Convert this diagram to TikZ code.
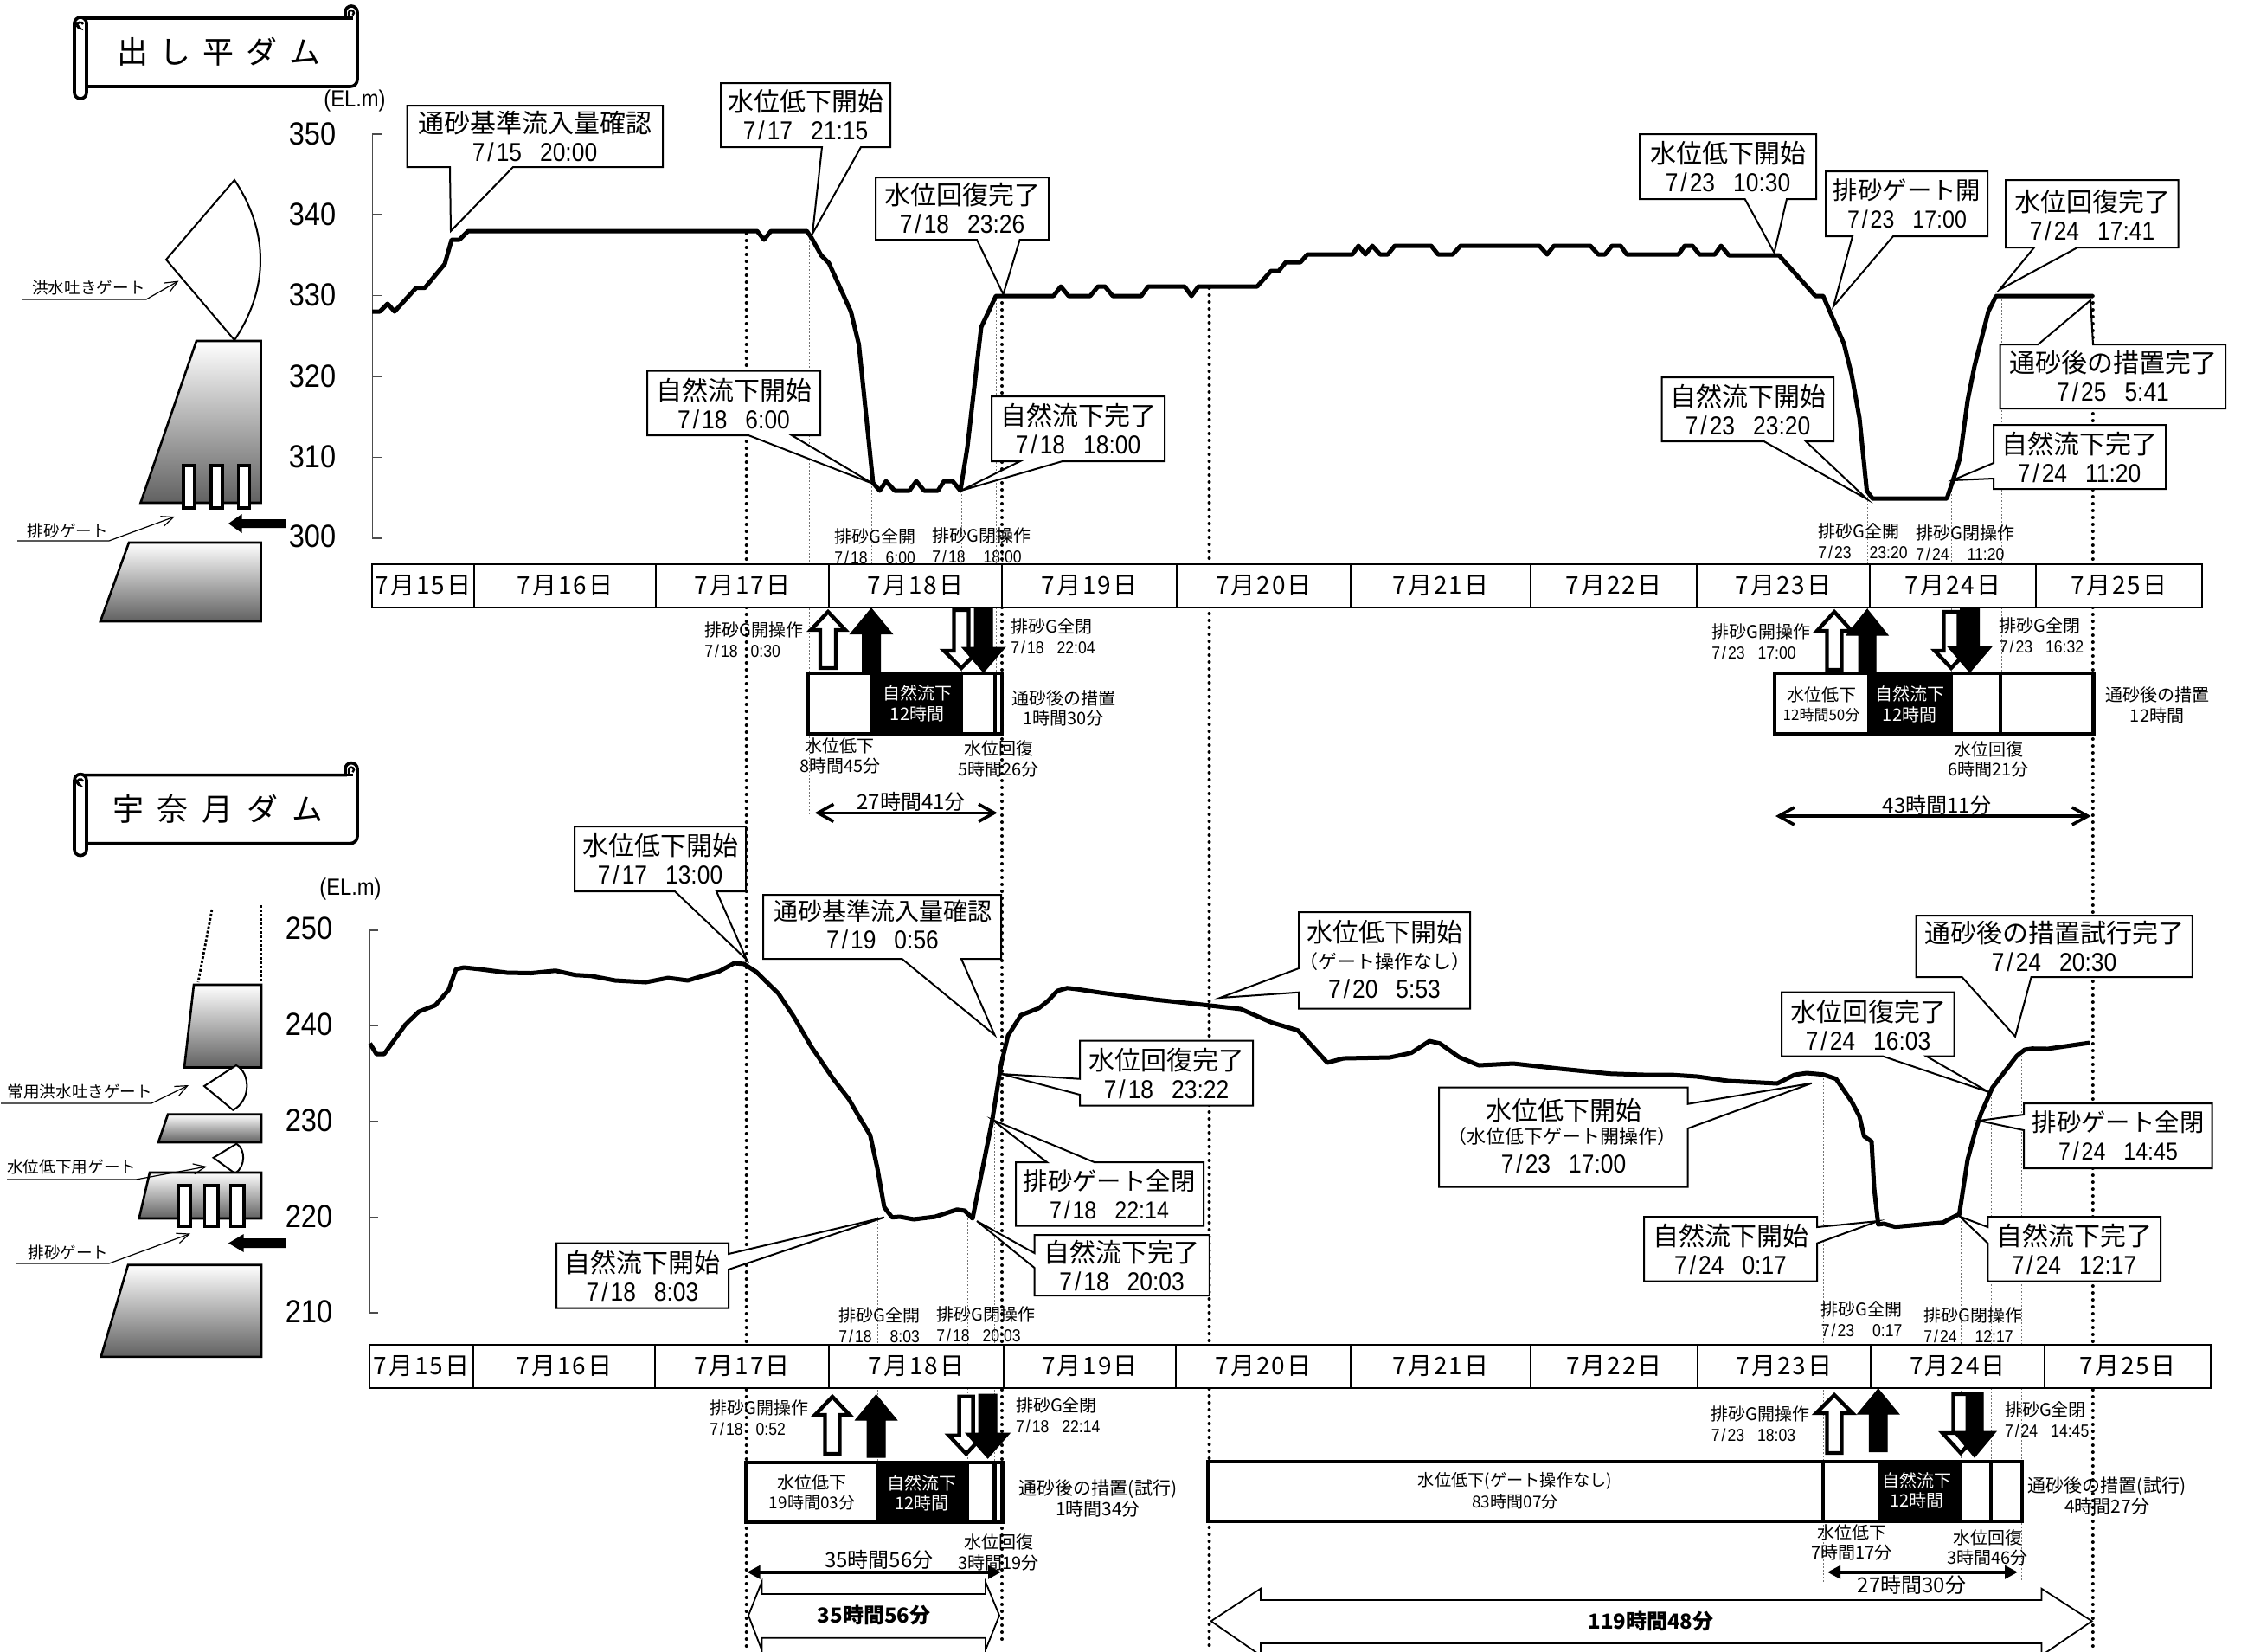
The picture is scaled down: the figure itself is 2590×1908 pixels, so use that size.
\documentclass[tikz,border=0pt]{standalone}
\usepackage{fontspec}
\setmainfont{Noto Sans CJK JP}
\newfontfamily\jp{Noto Sans CJK JP}
\newfontfamily\jpsp[LetterSpace=7]{Noto Sans CJK JP}
\newfontfamily\nm[FakeStretch=0.88]{Liberation Sans}
\usetikzlibrary{arrows.meta}
\newcommand\sls{\kern.1em/\kern.1em}
\newcommand\gpA{\hspace{10.5pt}}
\newcommand\gpB{\hspace{7.5pt}}
\tikzset{
  pic/.style={x=0.5pt,y=-0.5pt},
  thindot/.style={draw=black!55,line width=0.5pt,dash pattern=on 1pt off 1pt},
  thickdot/.style={draw=black,line width=2pt,line cap=round,dash pattern=on 0pt off 4pt},
  curve/.style={draw=black,line width=2.5pt,line join=round},
  callbox/.style={draw=black,fill=white,line width=1pt},
  cl/.style={inner sep=0,align=center,font=\jp\fontsize{15}{16.5}\selectfont},
  clsm/.style={inner sep=0,align=center,font=\jp\fontsize{14.2}{16.5}\selectfont},
  cellb/.style={draw=black,fill=white,line width=1pt,inner sep=0,outer sep=0,minimum height=25pt,font=\jpsp\fontsize{14}{16}\selectfont},
  sml/.style={inner sep=0,align=left,anchor=west,font=\jp\fontsize{10}{12}\selectfont},
  smc/.style={inner sep=0,align=center,font=\jp\fontsize{10}{11.7}\selectfont},
  smw/.style={smc,text=white},
  big/.style={inner sep=0,font=\jp\fontsize{12}{14}\selectfont},
  bigb/.style={inner sep=0,font=\jp\bfseries\fontsize{12}{14}\selectfont},
  axn/.style={inner sep=0,font=\nm\fontsize{18.5}{20}\selectfont},
  elm/.style={inner sep=0,font=\nm\fontsize{13.5}{15}\selectfont},
  axisl/.style={draw=black!70,line width=0.8pt},
  dam/.style={draw=black,line width=1.3pt,top color=white,bottom color=black!62},
  slot/.style={draw=black,fill=white,line width=1.8pt},
  gate/.style={draw=black,fill=white,line width=1pt},
  leader/.style={draw=black,line width=0.6pt,-{Straight Barb[length=7pt,width=6pt]}},
  dlab/.style={inner sep=0,anchor=west,font=\jp\fontsize{9.3}{11}\selectfont},
  tbox/.style={draw=black,fill=white,line width=2.2pt},
  tblk/.style={draw=black,fill=black,line width=1pt},
  tdiv/.style={draw=black,line width=2.2pt},
  awhite/.style={draw=black,fill=white,line width=2.2pt,miter limit=10},
  ablack/.style={draw=black,fill=black,line width=0.5pt},
  dblopen/.style={draw=black,line width=1.8pt,{Straight Barb[length=9pt,width=10pt,line width=1.8pt]}-{Straight Barb[length=9pt,width=10pt,line width=1.8pt]}},
  dblsolid/.style={draw=black,line width=1.8pt,{Triangle[length=7.5pt,width=7.5pt]}-{Triangle[length=7.5pt,width=7.5pt]}},
  hollow/.style={draw=black,fill=white,line width=0.9pt},
  scrollline/.style={draw=black,line width=1.8pt,fill=white},
  title/.style={inner sep=0,font=\jp\fontsize{18}{20}\selectfont}
}
% vertical block arrow: style, centre x, tip y, half head, head base y, half shaft, tail y
\newcommand\varr[7]{\draw[#1] (#2,#3) -- ({#2+#4},#5) -- ({#2+#6},#5) -- ({#2+#6},#7) -- ({#2-#6},#7) -- ({#2-#6},#5) -- ({#2-#4},#5) -- cycle;}
% date cell
\newcommand\dcell[5]{\node[cellb,minimum width={(#3-#2)*0.5pt}] (#1) at ({(#2+#3)/2},#4) {#5};}
% scroll banner
\newcommand\scrollshape{%
  \draw[scrollline] (93,21) -- (399,21) -- (399,14) arc[start angle=180,end angle=360,radius=7] -- (413,92) arc[start angle=0,end angle=90,radius=8] -- (95,100) -- cycle;
  \draw[scrollline,fill=none] (399,21) -- (408,21);
  \draw[scrollline] (86,27) arc[start angle=180,end angle=360,radius=7] -- (100,107) arc[start angle=0,end angle=180,radius=7] -- cycle;
  \draw[draw=black,line width=1.2pt] (96,28) arc[start angle=340,end angle=90,radius=3.5] -- (86,25);
  \draw[draw=black,line width=1.2pt] (403,20) -- (403,15) arc[start angle=180,end angle=420,radius=3];
}
\begin{document}
\begin{tikzpicture}[pic]
\useasboundingbox (0,0) rectangle (2590,1908);
\clip (0,0) rectangle (2590,1908);
\fill[white] (0,0) rectangle (2590,1908);

% ---- guide lines
\foreach \x/\a/\b in {935/267/942,1007.3/558/780,1111/567/780,1151/342/780,2051/295/942,2158/570/780,2255/555/780,2313/342/780,
 1014/1406/1692,1118/1408/1692,1149.6/1270/1692,2107/1242/1828,2170.5/1415/1692,2266/1403/1692,2301/1256/1692,2336/1220/1828}
  \draw[thindot] (\x,\a) -- (\x,\b);
\coordinate (d1a) at (862.7,270); \coordinate (d1b) at (862.7,1908);
\coordinate (d2a) at (1158,342); \coordinate (d2b) at (1158,1897);
\coordinate (d3a) at (1397.5,333); \coordinate (d3b) at (1397.5,1908);
\coordinate (d4a) at (2418.8,342); \coordinate (d4b) at (2418.8,1908);
\draw[thickdot] (d1a) -- (d1b);
\draw[thickdot] (d2a) -- (d2b);
\draw[thickdot] (d3a) -- (d3b);
\draw[thickdot] (d4a) -- (d4b);

% ---- axes
\draw[axisl] (441,155) -- (430.5,155) -- (430.5,622) -- (441,622);
\foreach \y in {248,341.5,435,528.6} \draw[axisl] (430.5,\y) -- (441,\y);
\draw[axisl] (437,1075) -- (427,1075) -- (427,1517) -- (437,1517);
\foreach \y in {1185,1296,1407} \draw[axisl] (427,\y) -- (437,\y);
\node[axn] (t350) at (361,155) {350};
\node[axn] (t340) at (361,248) {340};
\node[axn] (t330) at (361,341) {330};
\node[axn] (t320) at (361,435) {320};
\node[axn] (t310) at (361,528) {310};
\node[axn] (t300) at (361,620) {300};
\node[axn] (b250) at (357,1073) {250};
\node[axn] (b240) at (357,1184) {240};
\node[axn] (b230) at (357,1295) {230};
\node[axn] (b220) at (357,1406) {220};
\node[axn] (b210) at (357,1516) {210};
\node[elm] (el1) at (410,117) {(EL.m)};
\node[elm] (el2) at (405,1027) {(EL.m)};

% ---- scrolls
\scrollshape
\node[title] (ti1) at (253,60) {出\hspace{7pt}し\hspace{7pt}平\hspace{7pt}ダ\hspace{7pt}ム};
\begin{scope}[shift={(0,874.6)}]
\scrollshape
\end{scope}
\node[title] (ti2) at (252,935) {宇\hspace{8pt}奈\hspace{8pt}月\hspace{8pt}ダ\hspace{8pt}ム};

% ---- top dam
\draw[gate] (192,300) -- (271,208) .. controls (311,268) and (311,333) .. (271,393) -- cycle;
\draw[dam] (227,394) -- (301.5,394) -- (301.5,581) -- (162.5,581) -- cycle;
\draw[dam] (149,627) -- (301.5,627) -- (301.5,718) -- (116,718) -- cycle;
\draw[slot] (212,538) rectangle (225,587);
\draw[slot] (244,538) rectangle (257,587);
\draw[slot] (275.5,538) rectangle (288.5,587);
\fill[black] (264,605) -- (279.6,594) -- (279.6,600) -- (330,600) -- (330,610) -- (279.6,610) -- (279.6,616) -- cycle;
\node[dlab] (dl1) at (37,332.6) {洪水吐きゲート};
\coordinate (dl1a) at (26,346); \coordinate (dl1b) at (169,346); \coordinate (dl1c) at (206.6,324.5);
\draw[leader] (dl1a) -- (dl1b) -- (dl1c);
\node[dlab] (dl2) at (31.5,613) {排砂ゲート};
\coordinate (dl2a) at (20,625); \coordinate (dl2b) at (126,625); \coordinate (dl2c) at (202,597);
\draw[leader] (dl2a) -- (dl2b) -- (dl2c);

% ---- bottom dam
\draw[draw=black,line width=1.4pt,dash pattern=on 1.5pt off 1pt] (245,1051) -- (229,1135);
\draw[draw=black,line width=1.4pt,dash pattern=on 1.5pt off 1pt] (301.7,1046) -- (301.7,1135);
\draw[dam] (224,1138) -- (302,1138) -- (302,1233.5) -- (213,1233.5) -- cycle;
\draw[gate] (236,1255) -- (273,1231) .. controls (290,1240) and (290,1272) .. (269.3,1282.7) -- cycle;
\draw[dam] (194,1287.7) -- (302,1287.7) -- (302,1320) -- (183,1320) -- cycle;
\draw[gate] (246.7,1337.8) -- (273.3,1321.7) .. controls (284,1328) and (284,1348) .. (271.7,1356) -- cycle;
\draw[dam] (173,1355) -- (302,1355) -- (302,1408) -- (160.7,1408) -- cycle;
\draw[slot] (206,1370) rectangle (220.5,1417);
\draw[slot] (236.5,1370) rectangle (252,1417);
\draw[slot] (266.5,1370) rectangle (282,1417);
\fill[black] (264,1436.5) -- (281.7,1426) -- (281.7,1431) -- (330,1431) -- (330,1442) -- (281.7,1442) -- (281.7,1447) -- cycle;
\draw[dam] (148,1461.7) -- (302,1461.7) -- (302,1567.8) -- (116.7,1567.8) -- cycle;
\node[dlab] (dl3) at (8.3,1261) {常用洪水吐きゲート};
\coordinate (dl3a) at (1,1275); \coordinate (dl3b) at (175,1275); \coordinate (dl3c) at (218,1254);
\draw[leader] (dl3a) -- (dl3b) -- (dl3c);
\node[dlab] (dl4) at (8,1348) {水位低下用ゲート};
\coordinate (dl4a) at (8,1363); \coordinate (dl4b) at (157,1363); \coordinate (dl4c) at (239,1348);
\draw[leader] (dl4a) -- (dl4b) -- (dl4c);
\node[dlab] (dl5) at (32,1447) {排砂ゲート};
\coordinate (dl5a) at (19,1460); \coordinate (dl5b) at (126,1460); \coordinate (dl5c) at (220,1425.5);
\draw[leader] (dl5a) -- (dl5b) -- (dl5c);

% ---- callouts top
\draw[callbox] (470.7,122) -- (766,122) -- (766,193) -- (593,193) -- (521,267) -- (520,193) -- (470.7,193) -- cycle;
\node[cl] (c1) at (618,157) {通砂基準流入量確認\\\nm 7\sls 15\gpA 20:00};
\draw[callbox] (833,96) -- (1029,96) -- (1029,170) -- (995,170) -- (939,270) -- (950,170) -- (833,170) -- cycle;
\node[cl] (c2) at (931,133) {水位低下開始\\\nm 7\sls 17\gpA 21:15};
\draw[callbox] (1012,205) -- (1212,205) -- (1212,277) -- (1178.6,277) -- (1159.5,340) -- (1129,277) -- (1012,277) -- cycle;
\node[cl] (c3) at (1112,241) {水位回復完了\\\nm 7\sls 18\gpA 23:26};
\draw[callbox] (748,428.6) -- (948,428.6) -- (948,503) -- (915,503) -- (1009,559) -- (865,503) -- (748,503) -- cycle;
\node[cl] (c4) at (848,466) {自然流下開始\\\nm 7\sls 18\gpA 6:00};
\draw[callbox] (1146,458) -- (1346,458) -- (1346,533) -- (1228,533) -- (1110.5,567) -- (1179,533) -- (1146,533) -- cycle;
\node[cl] (c5) at (1246,495.5) {自然流下完了\\\nm 7\sls 18\gpA 18:00};
\draw[callbox] (1895,155) -- (2099,155) -- (2099,230) -- (2065,230) -- (2050.5,292) -- (2016.6,230) -- (1895,230) -- cycle;
\node[cl] (c6) at (1997,193) {水位低下開始\\\nm 7\sls 23\gpA 10:30};
\draw[callbox] (2110,198) -- (2297,198) -- (2297,273) -- (2188,273) -- (2119,354) -- (2141,273) -- (2110,273) -- cycle;
\node[clsm] (c7) at (2204,235.5) {排砂ゲート開\\\nm 7\sls 23\gpA 17:00};
\draw[callbox] (2318,208) -- (2517.5,208) -- (2517.5,286) -- (2401,286) -- (2310.6,335) -- (2351,286) -- (2318,286) -- cycle;
\node[cl] (c8) at (2418,249) {水位回復完了\\\nm 7\sls 24\gpA 17:41};
\draw[callbox] (2311.5,398) -- (2355.5,398) -- (2416,347) -- (2419,398) -- (2572,398) -- (2572,472) -- (2311.5,472) -- cycle;
\node[cl] (c9) at (2442,435) {通砂後の措置完了\\\nm 7\sls 25\gpA 5:41};
\draw[callbox] (1920.7,436) -- (2119,436) -- (2119,510) -- (2087,510) -- (2158,577) -- (2038.6,510) -- (1920.7,510) -- cycle;
\node[cl] (c10) at (2020,473) {自然流下開始\\\nm 7\sls 23\gpA 23:20};
\draw[callbox] (2304,491) -- (2503,491) -- (2503,565) -- (2304,565) -- (2304,553) -- (2256.5,555) -- (2304,535) -- cycle;
\node[cl] (c11) at (2403,528) {自然流下完了\\\nm 7\sls 24\gpA 11:20};

% ---- callouts bottom
\draw[callbox] (664,955) -- (862,955) -- (862,1030) -- (828,1030) -- (863,1109) -- (780,1030) -- (664,1030) -- cycle;
\node[cl] (e1) at (763,992.5) {水位低下開始\\\nm 7\sls 17\gpA 13:00};
\draw[callbox] (882,1034) -- (1157,1034) -- (1157,1108) -- (1111,1108) -- (1149.6,1196) -- (1042.4,1108) -- (882,1108) -- cycle;
\node[cl,font=\jp\fontsize{14}{16.5}\selectfont] (e2) at (1020,1068) {通砂基準流入量確認\\\nm\fontsize{15}{16.5}\selectfont 7\sls 19\gpA 0:56};
\draw[callbox] (643,1436.7) -- (842,1436.7) -- (842,1449) -- (1022,1406.7) -- (842,1467) -- (842,1511.7) -- (643,1511.7) -- cycle;
\node[cl] (e3) at (742.5,1474) {自然流下開始\\\nm 7\sls 18\gpA 8:03};
\draw[callbox] (1248,1202.7) -- (1448,1202.7) -- (1448,1277.7) -- (1248,1277.7) -- (1248,1265) -- (1157,1241) -- (1248,1246.7) -- cycle;
\node[cl] (e4) at (1348,1240) {水位回復完了\\\nm 7\sls 18\gpA 23:22};
\draw[callbox] (1174,1343) -- (1210,1343) -- (1147,1294) -- (1264.7,1343) -- (1391,1343) -- (1391,1416.7) -- (1174,1416.7) -- cycle;
\node[clsm] (e5) at (1282,1380) {排砂ゲート全閉\\\nm 7\sls 18\gpA 22:14};
\draw[callbox] (1195.5,1427) -- (1397.8,1427) -- (1397.8,1497) -- (1195.5,1497) -- (1195.5,1465) -- (1129,1411) -- (1195.5,1448) -- cycle;
\node[cl] (e6) at (1296.6,1462) {自然流下完了\\\nm 7\sls 18\gpA 20:03};
\draw[callbox] (1501,1054) -- (1699,1054) -- (1699,1165.7) -- (1501,1165.7) -- (1501,1146.7) -- (1410,1153) -- (1501,1119) -- cycle;
\node[cl] (e7a) at (1600,1077) {水位低下開始};
\node[cl,font=\jp\fontsize{11}{12}\selectfont] (e7b) at (1600,1111) {（ゲート操作なし）};
\node[cl,font=\nm\fontsize{15}{16.5}\selectfont] (e7c) at (1600,1143) {7\sls 20\gpA 5:53};
\draw[callbox] (1663,1256.7) -- (1950.6,1256.7) -- (1950.6,1275.7) -- (2093.7,1251.7) -- (1950.6,1304) -- (1950.6,1371.7) -- (1663,1371.7) -- cycle;
\node[cl] (e8a) at (1807,1283) {水位低下開始};
\node[cl,font=\jp\fontsize{11}{12}\selectfont] (e8b) at (1805,1313) {（水位低下ゲート開操作）};
\node[cl,font=\nm\fontsize{15}{16.5}\selectfont] (e8c) at (1807,1345) {7\sls 23\gpA 17:00};
\draw[callbox] (1900,1406) -- (2100,1406) -- (2100,1418) -- (2170.7,1411) -- (2100,1436.7) -- (2100,1480.7) -- (1900,1480.7) -- cycle;
\node[cl] (e9) at (2000,1443) {自然流下開始\\\nm 7\sls 24\gpA 0:17};
\draw[callbox] (2297.4,1406) -- (2497,1406) -- (2497,1480.7) -- (2297.4,1480.7) -- (2297.4,1436.7) -- (2265,1405.7) -- (2297.4,1418) -- cycle;
\node[cl] (e10) at (2397,1443) {自然流下完了\\\nm 7\sls 24\gpA 12:17};
\draw[callbox] (2339,1275) -- (2556.7,1275) -- (2556.7,1350) -- (2339,1350) -- (2339,1306) -- (2287,1295) -- (2339,1288) -- cycle;
\node[clsm] (e11) at (2448,1312) {排砂ゲート全閉\\\nm 7\sls 24\gpA 14:45};
\draw[callbox] (2059,1146.7) -- (2258.7,1146.7) -- (2258.7,1220.7) -- (2226.6,1220.7) -- (2298,1261.7) -- (2176.4,1220.7) -- (2059,1220.7) -- cycle;
\node[cl] (e12) at (2159,1184) {水位回復完了\\\nm 7\sls 24\gpA 16:03};
\draw[callbox] (2214.7,1058) -- (2533.8,1058) -- (2533.8,1129) -- (2347.6,1129) -- (2329,1197.7) -- (2267.5,1129) -- (2214.7,1129) -- cycle;
\node[cl] (e13) at (2374,1093.5) {通砂後の措置試行完了\\\nm 7\sls 24\gpA 20:30};

% ---- curves
\draw[curve] plot coordinates {(430,360)(439,360)(448,351)(456,360)(481,332.6)(491,332.6)(514,305)(522,277)(531,277)(541,267)(875,267)(883,277)(891,267)(932.5,267)(938,275)(949,295)(958,304)(983.4,360)(992.6,398)(1009,558)(1016.7,567)(1024,556)(1034,567)(1051,567)(1059,556)(1068,567)(1084,567)(1091,556)(1101,556)(1110,567)(1118,517)(1134,378)(1151,342)(1217.6,342)(1226,331)(1235,342)(1260,342)(1269,331)(1277,331)(1286,342)(1319,342)(1327,331)(1369,331)(1377,342)(1385,331)(1453,331)(1469,313)(1478,313)(1486,303)(1503,303)(1511,294)(1563,294)(1570,284)(1578,294)(1586,284)(1595,294)(1604,294)(1612,284)(1654,284)(1662,294)(1679,294)(1688,284)(1779,284)(1788,294)(1796,284)(1838,284)(1847,294)(1855,294)(1863,284)(1873,284)(1880,294)(1940,294)(1947,284)(1956,284)(1964,294)(1982,294)(1989,284)(1998,295)(2056,295)(2098,342)(2107,342)(2131,397)(2140,433)(2149,483)(2157.5,567)(2164,576)(2250,576)(2256.5,557)(2265,530)(2274,463)(2282,423)(2298,360)(2307,342)(2419,342)};
\draw[curve] plot coordinates {(427.6,1205.7)(435,1218)(444,1218)(468.5,1184)(484,1169)(503,1161.7)(518.5,1144)(527,1120)(536,1118)(555,1120)(586,1124)(614,1124.5)(642,1121.7)(665,1126.7)(683,1127.7)(711,1133)(746.5,1135)(772,1130)(795,1133)(808,1129)(830.7,1122.7)(848.6,1113)(860,1114)(874,1123)(899.6,1148)(917.5,1175)(938,1210)(963,1246.7)(981,1270)(991.4,1288)(1005.7,1311.7)(1014,1350)(1022,1395)(1031,1406.7)(1040,1406)(1056,1409)(1080.7,1406)(1106,1397.7)(1115,1399)(1124,1408)(1147,1293)(1157,1230)(1165,1196.7)(1180,1173)(1200.6,1165)(1211,1156.7)(1222,1145)(1233.5,1141.7)(1244.6,1143)(1271.4,1147)(1334,1155)(1396.4,1161.7)(1434,1166)(1470,1181.7)(1500,1190.7)(1534,1228)(1552.7,1223)(1606,1222)(1631,1216.7)(1652,1203)(1664,1205.7)(1686.6,1221.7)(1709,1231)(1749,1229)(1803,1235)(1860.7,1240.7)(1900,1242)(1931,1242)(1961.6,1244)(1997,1249)(2054,1252)(2074,1242)(2088,1240)(2107,1241.7)(2122,1246.7)(2140,1273)(2149,1290)(2154.4,1313)(2163,1319)(2166,1373)(2170.7,1415)(2177,1414)(2190.5,1417.7)(2245.5,1412.7)(2254,1408)(2264.4,1403)(2274,1340)(2283,1306.7)(2289.5,1286.7)(2302.7,1256.7)(2331,1220)(2340,1213)(2349,1211.7)(2366.5,1212)(2415,1205)};

% ---- date bars
\dcell{a15}{430}{548}{677}{7月15日}
\dcell{a16}{548}{758}{677}{7月16日}
\dcell{a17}{758}{958}{677}{7月17日}
\dcell{a18}{958}{1158}{677}{7月18日}
\dcell{a19}{1158}{1360}{677}{7月19日}
\dcell{a20}{1360}{1561}{677}{7月20日}
\dcell{a21}{1561}{1769}{677}{7月21日}
\dcell{a22}{1769}{1961}{677}{7月22日}
\dcell{a23}{1961}{2161}{677}{7月23日}
\dcell{a24}{2161}{2353}{677}{7月24日}
\dcell{a25}{2353}{2545}{677}{7月25日}
\dcell{b15}{427}{547}{1579}{7月15日}
\dcell{b16}{547}{757}{1579}{7月16日}
\dcell{b17}{757}{958}{1579}{7月17日}
\dcell{b18}{958}{1160}{1579}{7月18日}
\dcell{b19}{1160}{1359}{1579}{7月19日}
\dcell{b20}{1359}{1561}{1579}{7月20日}
\dcell{b21}{1561}{1769}{1579}{7月21日}
\dcell{b22}{1769}{1962}{1579}{7月22日}
\dcell{b23}{1962}{2162}{1579}{7月23日}
\dcell{b24}{2162}{2362.5}{1579}{7月24日}
\dcell{b25}{2362.5}{2555}{1579}{7月25日}

% ---- small gate labels, top
\node[sml] (s1) at (964,631) {排砂G全開\\\nm 7\sls 18\gpA 6:00};
\node[sml] (s2) at (1077,630) {排砂G閉操作\\\nm 7\sls 18\gpA 18:00};
\node[sml] (s3) at (814,739) {排砂G開操作\\\nm 7\sls 18\gpB 0:30};
\node[sml] (s4) at (1168,735) {排砂G全閉\\\nm 7\sls 18\gpB 22:04};
\node[sml] (s5) at (2101,625) {排砂G全開\\\nm 7\sls 23\gpA 23:20};
\node[sml] (s6) at (2214,627) {排砂G閉操作\\\nm 7\sls 24\gpA 11:20};
\node[sml] (s7) at (1978,741) {排砂G開操作\\\nm 7\sls 23\gpB 17:00};
\node[sml] (s8) at (2310.4,734) {排砂G全閉\\\nm 7\sls 23\gpB 16:32};
% ---- small gate labels, bottom
\node[sml] (s9) at (969,1531.5) {排砂G全開\\\nm 7\sls 18\gpA 8:03};
\node[sml] (s10) at (1082,1530) {排砂G閉操作\\\nm 7\sls 18\gpB 20:03};
\node[sml] (s11) at (820,1638) {排砂G開操作\\\nm 7\sls 18\gpB 0:52};
\node[sml] (s12) at (1173.7,1635) {排砂G全閉\\\nm 7\sls 18\gpB 22:14};
\node[sml] (s13) at (2104.5,1524.5) {排砂G全開\\\nm 7\sls 23\gpA 0:17};
\node[sml] (s14) at (2223,1531.5) {排砂G閉操作\\\nm 7\sls 24\gpA 12:17};
\node[sml] (s15) at (1977.5,1645) {排砂G開操作\\\nm 7\sls 23\gpB 18:03};
\node[sml] (s16) at (2316.6,1640) {排砂G全閉\\\nm 7\sls 24\gpB 14:45};

% ---- timeline 1
\draw[tbox] (934,778) rectangle (1158,848);
\draw[tblk] (1007,778) rectangle (1112,848);
\draw[tdiv] (1150,778) -- (1150,848);
\varr{awhite}{957}{707}{20}{728}{9}{772}
\varr{ablack}{1007}{703}{24.5}{732.7}{10.5}{777}
\varr{awhite}{1111}{772}{20}{752}{8.5}{705}
\varr{ablack}{1136.7}{777}{25}{748}{10.5}{703}
\node[smw] (w1) at (1060,813) {自然流下\\12時間};
\node[smc] (w2) at (1229,818.5) {通砂後の措置\\1時間30分};
\node[smc] (w3) at (970.7,873.5) {水位低下\\8時間45分};
\node[smc] (w4) at (1154,877) {水位回復\\5時間26分};
\node[big] (w5) at (1053,926) {27時間41分};
\coordinate (w6a) at (941.7,939.3); \coordinate (w6b) at (1152.7,939.3);
\draw[dblopen] (w6a) -- (w6b);

% ---- timeline 2
\draw[tbox] (2051,778) rectangle (2419.4,848);
\draw[tblk] (2159,778) rectangle (2256,848);
\draw[tdiv] (2312,778) -- (2312,848);
\varr{awhite}{2120}{707}{20}{729}{8.5}{774}
\varr{ablack}{2158}{704}{24}{734}{10}{778}
\varr{awhite}{2255}{772}{19}{752}{8.5}{707}
\varr{ablack}{2276.5}{777}{25}{747.7}{11}{703}
\node[smc] (x1a) at (2105,802.7) {水位低下};
\node[smc,font=\jp\fontsize{8.5}{10}\selectfont] (x1b) at (2105,826) {12時間50分};
\node[smw] (x2) at (2207,814) {自然流下\\12時間};
\node[smc] (x3) at (2493,815) {通砂後の措置\\12時間};
\node[smc] (x4) at (2298,877.5) {水位回復\\6時間21分};
\node[big] (x5) at (2238.6,930.7) {43時間11分};
\coordinate (x6a) at (2052,943); \coordinate (x6b) at (2416.5,943);
\draw[dblopen] (x6a) -- (x6b);

% ---- timeline 3
\draw[tbox] (862.6,1690) rectangle (1158.6,1759);
\draw[tblk] (1013,1690) rectangle (1119,1759);
\draw[tdiv] (1149.6,1690) -- (1149.6,1759);
\varr{awhite}{962}{1614}{20}{1635}{8.5}{1680}
\varr{ablack}{1012.6}{1611.7}{24}{1641}{10.5}{1684}
\varr{awhite}{1116.6}{1680}{20}{1658.7}{8}{1613.7}
\varr{ablack}{1141.6}{1685}{25.6}{1656}{10.5}{1611}
\node[smc] (y1a) at (938.5,1713) {水位低下};
\node[smc,font=\jp\fontsize{9.5}{11}\selectfont] (y1b) at (938.5,1736.7) {19時間03分};
\node[smw] (y2) at (1065.7,1725) {自然流下\\12時間};
\node[smc,font=\jp\fontsize{10.5}{11.7}\selectfont] (y3) at (1269,1731.5) {通砂後の措置(試行)\\1時間34分};
\node[smc] (y4) at (1154,1794) {水位回復\\3時間19分};
\node[big] (y5) at (1015.7,1802.7) {35時間56分};
\coordinate (y6a) at (863.5,1816.7); \coordinate (y6b) at (1157,1816.7);
\draw[dblsolid] (y6a) -- (y6b);
\draw[hollow] (865,1866.7) -- (880.4,1828) -- (880.4,1842) -- (1139,1842) -- (1139,1828) -- (1155,1866.7) -- (1139,1906.7) -- (1139,1892.7) -- (880.4,1892.7) -- (880.4,1906.7) -- cycle;
\node[bigb] (y7) at (1010,1866.7) {35時間56分};

% ---- timeline 4
\draw[tbox] (1396,1689) rectangle (2337,1758);
\draw[tdiv] (2107,1689) -- (2107,1758);
\draw[tblk] (2170.7,1689) rectangle (2267,1758);
\draw[tdiv] (2301,1689) -- (2301,1758);
\varr{awhite}{2120}{1612}{21}{1633}{8.5}{1679}
\varr{ablack}{2170.7}{1605}{24}{1634}{10.3}{1677.7}
\varr{awhite}{2266}{1679}{21}{1656}{8.5}{1611}
\varr{ablack}{2282}{1684}{25}{1654}{10}{1609}
\node[smc,font=\jp\fontsize{9.6}{11}\selectfont] (z1a) at (1751,1711) {水位低下(ゲート操作なし)};
\node[smc,font=\jp\fontsize{9.5}{11}\selectfont] (z1b) at (1751,1735) {83時間07分};
\node[smw] (z2) at (2215.4,1722.5) {自然流下\\12時間};
\node[smc] (z3) at (2140,1782.5) {水位低下\\7時間17分};
\node[smc] (z4) at (2297,1788.5) {水位回復\\3時間46分};
\node[smc,font=\jp\fontsize{10.5}{11.7}\selectfont] (z5) at (2435,1728.5) {通砂後の措置(試行)\\4時間27分};
\node[big] (z6) at (2209.6,1831) {27時間30分};
\coordinate (z7a) at (2112,1816.7); \coordinate (z7b) at (2332,1816.7);
\draw[dblsolid] (z7a) -- (z7b);
\draw[hollow] (1399.6,1873.3) -- (1457,1835.7) -- (1457,1849) -- (2359.4,1849) -- (2359.4,1835.7) -- (2417.7,1873.3) -- (2359.4,1913) -- (2359.4,1899) -- (1457,1899) -- (1457,1913) -- cycle;
\node[bigb] (z8) at (1908,1873) {119時間48分};
\end{tikzpicture}
\end{document}
